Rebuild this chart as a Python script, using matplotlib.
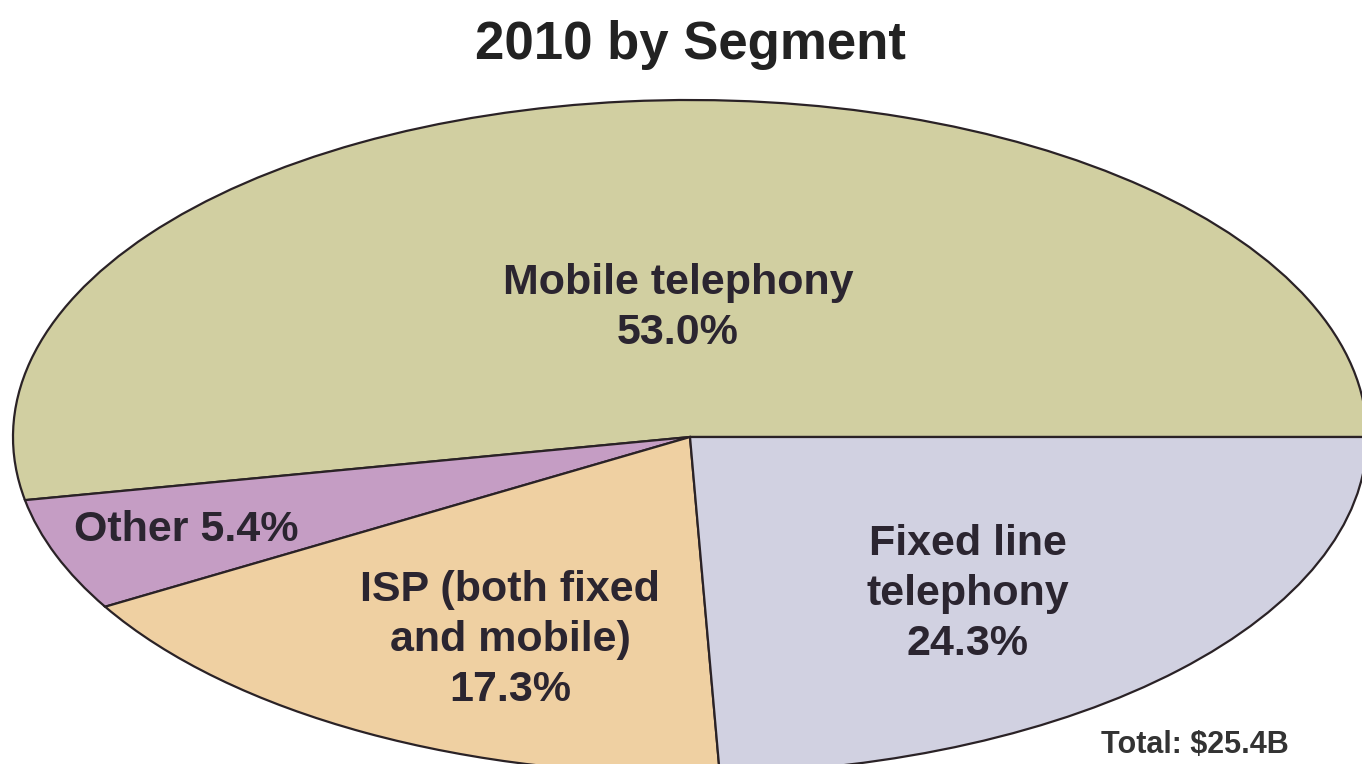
import matplotlib
matplotlib.use("Agg")
import matplotlib.pyplot as plt

# data
segments = ["Mobile telephony", "Other", "ISP (both fixed\nand mobile)", "Fixed line\ntelephony"]
shares = [53.0, 5.4, 17.3, 24.3]
colors = ["#d1cfa1", "#c59dc4", "#efd0a2", "#d1d1e1"]
title = "2010 by Segment"
total_note = "Total: $25.4B"

W, H = 1362, 764
fig = plt.figure(figsize=(W / 100, H / 100), dpi=100)
ax = fig.add_axes([0, 0, 1, 1])

# pie center / radii in pixels (an ellipse, cut at the bottom)
cx, cy, rx, ry = 690, 437, 677, 337

ax.pie(shares, colors=colors, startangle=0, counterclock=True,
       wedgeprops=dict(edgecolor="#2a2226", linewidth=1.6))
ax.set_aspect("auto")
ax.set_xlim(-cx / rx, (W - cx) / rx)
ax.set_ylim(-(H - cy) / ry, cy / ry)
ax.axis("off")

font = ["Liberation Sans", "DejaVu Sans"]
txt = dict(family=font, fontweight="bold", color="#2b2530", fontsize=31,
           ha="center", va="center", linespacing=1.32, transform=fig.transFigure)

def fx(px):
    return px / W

def fy(py):
    return 1 - py / H

fig.text(fx(690), fy(45), title, **{**txt, "fontsize": 38, "color": "#222222"})
fig.text(fx(678), fy(308), f"{segments[0]}\n{shares[0]:.1f}%", **txt)
fig.text(fx(186), fy(530), f"{segments[1]} {shares[1]:.1f}%", **txt)
fig.text(fx(510), fy(640), f"{segments[2]}\n{shares[2]:.1f}%", **txt)
fig.text(fx(968), fy(594), f"{segments[3]}\n{shares[3]:.1f}%", **txt)
fig.text(fx(1195), fy(760), total_note,
         **{**txt, "va": "bottom", "fontsize": 22, "color": "#333333"})

fig.savefig("out.png", dpi=100, facecolor="white")
